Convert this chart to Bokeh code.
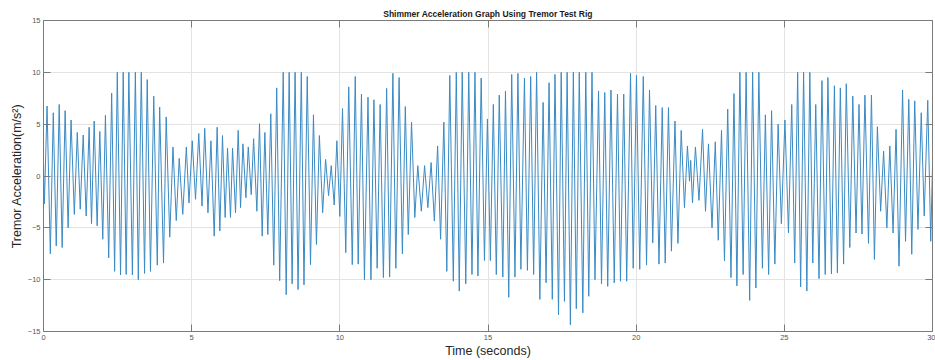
from bokeh.plotting import figure
from bokeh.models import LinearAxis, FixedTicker, Range1d
from bokeh.embed import file_html
from bokeh.resources import INLINE

time_s = [
    0.00, 0.03, 0.12, 0.23, 0.33, 0.43, 0.53, 0.63, 0.73, 0.83, 0.93, 1.04, 1.14, 1.24, 1.34, 1.44,
    1.54, 1.62, 1.71, 1.81, 1.90, 2.00, 2.09, 2.20, 2.30, 2.40, 2.49, 2.60, 2.69, 2.79, 2.88, 3.00,
    3.10, 3.20, 3.30, 3.41, 3.50, 3.61, 3.72, 3.84, 3.92, 4.05, 4.14, 4.26, 4.37, 4.48, 4.58, 4.70,
    4.82, 4.91, 5.02, 5.13, 5.24, 5.35, 5.44, 5.55, 5.65, 5.76, 5.86, 5.95, 6.04, 6.13, 6.21, 6.31,
    6.38, 6.48, 6.57, 6.65, 6.73, 6.83, 6.91, 7.01, 7.09, 7.20, 7.29, 7.38, 7.47, 7.57, 7.67, 7.77,
    7.87, 7.97, 8.09, 8.19, 8.29, 8.39, 8.49, 8.59, 8.70, 8.79, 8.90, 9.01, 9.11, 9.21, 9.31, 9.42,
    9.52, 9.62, 9.71, 9.81, 9.90, 10.00, 10.09, 10.20, 10.30, 10.42, 10.52, 10.62, 10.73, 10.83,
    10.95, 11.05, 11.15, 11.26, 11.36, 11.47, 11.58, 11.68, 11.79, 11.89, 12.00, 12.11, 12.21,
    12.31, 12.42, 12.53, 12.63, 12.75, 12.86, 12.97, 13.08, 13.19, 13.30, 13.40, 13.51, 13.61,
    13.71, 13.83, 13.93, 14.03, 14.13, 14.25, 14.35, 14.46, 14.56, 14.66, 14.77, 14.88, 14.98,
    15.08, 15.18, 15.28, 15.38, 15.50, 15.59, 15.70, 15.80, 15.91, 16.01, 16.11, 16.23, 16.33,
    16.44, 16.54, 16.64, 16.75, 16.86, 16.96, 17.06, 17.17, 17.26, 17.38, 17.47, 17.58, 17.67,
    17.78, 17.88, 17.98, 18.08, 18.20, 18.30, 18.40, 18.51, 18.61, 18.73, 18.83, 18.94, 19.04,
    19.15, 19.26, 19.37, 19.47, 19.58, 19.68, 19.81, 19.90, 20.01, 20.12, 20.24, 20.35, 20.45,
    20.56, 20.66, 20.77, 20.88, 20.98, 21.09, 21.19, 21.31, 21.41, 21.52, 21.63, 21.73, 21.80,
    21.84, 21.90, 22.00, 22.12, 22.24, 22.34, 22.44, 22.56, 22.67, 22.77, 22.88, 22.98, 23.09,
    23.20, 23.30, 23.40, 23.50, 23.61, 23.71, 23.83, 23.93, 24.04, 24.14, 24.26, 24.36, 24.47,
    24.57, 24.68, 24.79, 24.90, 25.02, 25.14, 25.25, 25.35, 25.45, 25.55, 25.65, 25.76, 25.86,
    25.96, 26.06, 26.17, 26.27, 26.38, 26.47, 26.59, 26.69, 26.79, 26.89, 27.00, 27.09, 27.21,
    27.31, 27.42, 27.52, 27.62, 27.72, 27.84, 27.94, 28.04, 28.14, 28.25, 28.35, 28.46, 28.56,
    28.67, 28.77, 28.87, 28.99, 29.09, 29.20, 29.30, 29.40, 29.51, 29.62, 29.72, 29.84, 29.94,
    30.00,
]
accel = [
    1.3, -2.7, 6.75, -7.5, 6.1, -6.75, 6.9, -6.9, 6.3, -5.0, 5.4, -3.7, 4.2, -3.2, 3.95, -3.85,
    4.7, -4.6, 5.3, -4.8, 4.3, -6.1, 5.85, -7.9, 8.0, -9.2, 10, -9.55, 10, -9.5, 10, -9.55,
    10, -10.0, 10, -9.4, 9.3, -9.2, 7.7, -8.6, 6.65, -8.4, 5.7, -5.9, 2.8, -4.3, 1.7, -3.7,
    2.8, -2.6, 3.4, -2.25, 4.1, -2.9, 4.6, -3.55, 3.4, -5.8, 4.7, -5.3, 3.9, -4.0, 2.7, -4.0,
    2.7, -3.55, 4.4, -3.05, 3.1, -2.1, 2.8, -1.8, 3.6, -3.4, 5.05, -5.8, 4.2, -5.65, 6.0, -8.6,
    8.5, -10.1, 10, -11.45, 10, -10.4, 10, -10.95, 10, -10.5, 9.6, -8.55, 5.9, -6.6, 3.9, -3.55,
    1.6, -1.9, 1.0, -2.8, 3.4, -3.9, 6.5, -7.4, 8.6, -8.55, 9.6, -8.5, 7.9, -10.0,
    7.6, -10.0, 7.35, -8.9, 6.9, -9.8, 8.45, -9.75, 9.9, -8.9, 9.5, -7.5, 6.7,
    -5.65, 5.2, -4.0, 1.0, -3.4, 1.0, -3.05, 1.3, -4.35, 2.9, -6.1, 5.2, -9.2,
    9.7, -10.15, 10, -11.1, 10, -10.4, 10, -9.5, 10, -9.65, 9.45, -8.15, 5.5,
    -8.15, 6.9, -9.5, 7.8, -9.75, 8.2, -11.7, 9.8, -9.75, 9.9, -9.0, 9.45, -9.1,
    9.6, -9.5, 10, -11.9, 7.1, -10.3, 9.0, -11.9, 9.8, -13.4, 10, -12.1, 10,
    -14.35, 10, -12.8, 10, -13.2, 10, -11.6, 10, -10.0, 8.2, -10.4, 8.05, -10.65,
    8.3, -10.3, 7.9, -10.15, 7.9, -10.15, 9.9, -8.9, 9.7, -9.0, 9.6, -8.6, 8.3,
    -6.45, 6.8, -8.5, 6.6, -8.4, 6.6, -7.25, 5.3, -6.5, 4.4, -3.05, 2.9, -0.5,
    1.5, -2.6, 2.8, -2.35, 4.5, -3.4, 3.1, -5.0, 3.3, -6.2, 4.4, -8.2, 6.45,
    -9.8, 7.95, -10.6, 10, -9.5, 10, -12.0, 10, -10.8, 10, -8.9, 5.9, -9.5,
    6.3, -8.5, 5.0, -4.6, 5.4, -5.5, 6.9, -8.4, 10, -10.7, 10, -11.1, 10,
    -8.4, 6.9, -9.9, 9.2, -9.5, 9.5, -9.45, 8.7, -9.35, 8.5, -8.5, 8.9, -6.9,
    7.7, -5.5, 6.9, -5.6, 7.8, -6.5, 7.8, -8.05, 4.75, -3.4, 2.4, -5.0, 2.9,
    -5.5, 4.5, -8.7, 8.3, -6.3, 7.4, -7.55, 7.25, -5.15, 6.1, -3.85, 7.3, -6.3,
    1.0,
]

x_ticks = [0, 5, 10, 15, 20, 25, 30]
y_ticks = [-15, -10, -5, 0, 5, 10, 15]

FONT = "Liberation Sans"
AXIS_COL = "#7a7a7a"
TICK_LABEL_COL = "#555555"

p = figure(width=935, height=360, output_backend="svg", toolbar_location=None,
           x_range=Range1d(0, 30), y_range=Range1d(-15, 15),
           min_border_left=43, min_border_right=3, min_border_top=20, min_border_bottom=29,
           background_fill_color="white", border_fill_color="white")
p.outline_line_color = None

p.title.text = "Shimmer Acceleration Graph Using Tremor Test Rig"
p.title.align = "center"
p.title.text_font = FONT
p.title.text_font_size = "8.5px"
p.title.text_font_style = "bold"
p.title.text_color = "#1a1a1a"
p.title.standoff = 3

p.line(time_s, accel, line_color="#3a8ac4", line_width=1)

for ax in p.xaxis:
    ax.ticker = FixedTicker(ticks=x_ticks)
    ax.axis_label = "Time (seconds)"
for ax in p.yaxis:
    ax.ticker = FixedTicker(ticks=y_ticks)
    ax.axis_label = "Tremor Acceleration(m/s²)"

for ax in list(p.xaxis) + list(p.yaxis):
    ax.axis_line_color = AXIS_COL
    ax.major_tick_line_color = AXIS_COL
    ax.major_tick_in = 7
    ax.major_tick_out = 0
    ax.minor_tick_line_color = None
    ax.major_label_text_font = FONT
    ax.major_label_text_font_size = "7.5px"
    ax.major_label_text_color = TICK_LABEL_COL
    ax.major_label_standoff = 3
    ax.axis_label_text_font = FONT
    ax.axis_label_text_font_size = "12.5px"
    ax.axis_label_text_font_style = "normal"
    ax.axis_label_text_color = "#262626"
    ax.axis_label_standoff = 1

# box (MATLAB style): axes above and on the right with inward ticks and no labels painted
def box_axis(ticks):
    return LinearAxis(ticker=FixedTicker(ticks=ticks), major_label_text_font_size="1px",
                      major_label_text_color=None, major_label_standoff=0,
                      major_tick_in=7, major_tick_out=0, minor_tick_line_color=None,
                      axis_line_color=AXIS_COL, major_tick_line_color=AXIS_COL)

p.add_layout(box_axis(x_ticks), "above")
p.add_layout(box_axis(y_ticks), "right")

p.xgrid.ticker = FixedTicker(ticks=x_ticks)
p.ygrid.ticker = FixedTicker(ticks=y_ticks)
p.grid.grid_line_color = "#e3e3e3"
p.grid.grid_line_width = 1

open("out.html", "w").write(file_html(p, INLINE))
